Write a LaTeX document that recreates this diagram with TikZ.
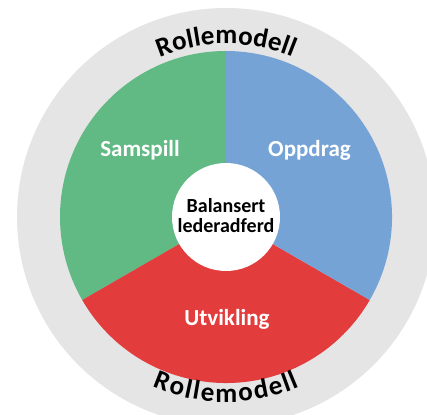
\documentclass[tikz,border=0pt]{standalone}
\usepackage{fontspec}
\setmainfont{Carlito}
\usepackage{tikz}
\usetikzlibrary{decorations.text}
\definecolor{ringGray}{RGB}{229,229,229}
\definecolor{sectorGreen}{RGB}{97,185,132}
\definecolor{sectorBlue}{RGB}{118,163,214}
\definecolor{sectorRed}{RGB}{226,60,60}
\newcommand{\rollefont}{\bfseries\fontsize{27}{27}\selectfont}
\tikzset{
  sector label/.style={anchor=base,text=white,font=\bfseries\fontsize{23}{23}\selectfont,inner sep=0pt},
  hub/.style={circle,fill=white,minimum size=108pt,inner sep=0pt},
  hub text/.style={align=center,text=black,font=\bfseries\fontsize{20}{20}\selectfont,inner sep=0pt},
  ring text/.style={decorate,decoration={text along path,text={|\rollefont|Rollemodell},text align={fit to path}}}
}

\begin{document}
\begin{tikzpicture}[x=1pt,y=1pt]
        \useasboundingbox (-226,-197) rectangle (201,217);
        \clip (-226,-197) rectangle (201,217);
        \fill[ringGray] (0,0) circle[radius=209pt];
        \fill[sectorGreen] (0,0) -- (90:166pt) arc[start angle=90,end angle=210,radius=166pt] -- cycle;
        \fill[sectorRed] (0,0) -- (210:166pt) arc[start angle=210,end angle=330,radius=166pt] -- cycle;
        \fill[sectorBlue] (0,0) -- (330:166pt) arc[start angle=-30,end angle=90,radius=166pt] -- cycle;
        \node[hub] (hub) at (0,0) {};
        \node[hub text] (hubtext) at (0,1) {Balansert\\lederadferd};
        \node[sector label] (samspill) at (-86,60) {Samspill};
        \node[sector label] (oppdrag) at (83.5,60) {Oppdrag};
        \node[sector label] (utvikling) at (1,-108) {Utvikling};
        \path[ring text] (112.5:173pt) arc[start angle=112.5,end angle=67.5,radius=173pt];
        \path[ring text] (246.5:185pt) arc[start angle=246.5,end angle=293.5,radius=185pt];
      \end{tikzpicture}
\end{document}
